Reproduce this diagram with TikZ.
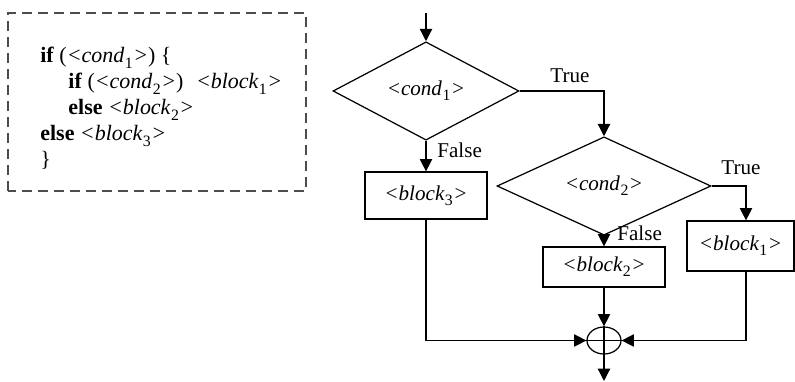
\documentclass[tikz,border=0pt]{standalone}
\usepackage{fontspec}
\setmainfont{Liberation Serif}
\usetikzlibrary{shapes.geometric,arrows.meta}

% placeholder in angle brackets with a lowered index
\newcommand{\angitem}[2]{<#1\kern0.3pt\raisebox{-3pt}{\fontsize{9}{9}\selectfont\upshape #2}\kern0.3pt>}

\tikzset{
  flow/.style={line width=0.7pt,-{Triangle[width=7pt,length=7pt]}},
  decision/.style={draw,diamond,line width=0.7pt,inner sep=0pt,font=\fontsize{12}{14}\selectfont\itshape},
  block/.style={draw,rectangle,line width=0.7pt,inner sep=0pt,font=\fontsize{12}{14}\selectfont\itshape},
  lbl/.style={inner sep=0pt,font=\fontsize{12}{14}\selectfont}
}

\begin{document}
\begin{tikzpicture}[x=0.02cm,y=0.02cm]
\useasboundingbox (0,0) rectangle (795,382);

% nested if/else as code
\draw[black!70,line width=0.6pt,dash pattern=on 0.2cm off 0.12cm] (8,191) rectangle (306,369);
\node[anchor=north west,inner sep=0pt,align=left,font=\fontsize{12.5}{14.8}\selectfont] (code) at (40,335) {%
\textbf{if} (\textit{\angitem{cond}{1}}) \{\\
\hspace*{16pt}\textbf{if} (\textit{\angitem{cond}{2}})\hspace{4pt} \textit{\angitem{block}{1}}\\
\hspace*{16pt}\textbf{else} \textit{\angitem{block}{2}}\\
\textbf{else} \textit{\angitem{block}{3}}\\
\}};

% flowchart
\coordinate (in) at (426,369);
\node[decision,minimum width=3.72cm,minimum height=1.52cm] (c1) at (426,291) {\angitem{cond}{1}};
\node[decision,minimum width=4.28cm,minimum height=1.28cm] (c2) at (604,196) {\angitem{cond}{2}};
\node[block,minimum width=2.44cm,minimum height=0.94cm] (b3) at (426,186.5) {\angitem{block}{3}};
\node[block,minimum width=2.44cm,minimum height=0.8cm] (b2) at (604,115) {\angitem{block}{2}};
\node[block,minimum width=2.14cm,minimum height=1.0cm] (b1) at (740.5,136) {\angitem{block}{1}};
\node[draw,ellipse,line width=0.7pt,minimum width=0.68cm,minimum height=0.54cm,inner sep=0pt] (sum) at (604,41.5) {};
\coordinate (out) at (604,1);

% branch labels
\node[lbl] (t1) at (570,306) {True};
\node[lbl,anchor=west] (f1) at (437,232) {False};
\node[lbl] (t2) at (741,214) {True};
\node[lbl,anchor=west] (f2) at (617,149) {False};

\draw[flow] (in) -- (c1.north);
\draw[flow] (c1.east) -| (c2.north);
\draw[flow] (c1.south) -- (b3.north);
\draw[flow] (c2.east) -| ([xshift=0.11cm]b1.north);
\draw[flow] (c2.south) -- (b2.north);
\draw[flow] (b2.south) -- (sum.north);
\draw[flow] (b3.south) |- (sum.west);
\draw[flow] ([xshift=0.11cm]b1.south) |- (sum.east);
\draw[line width=0.7pt] (sum.north) -- (sum.south) (sum.west) -- (sum.east);
\draw[flow] (sum.south) -- (out);
\end{tikzpicture}
\end{document}
